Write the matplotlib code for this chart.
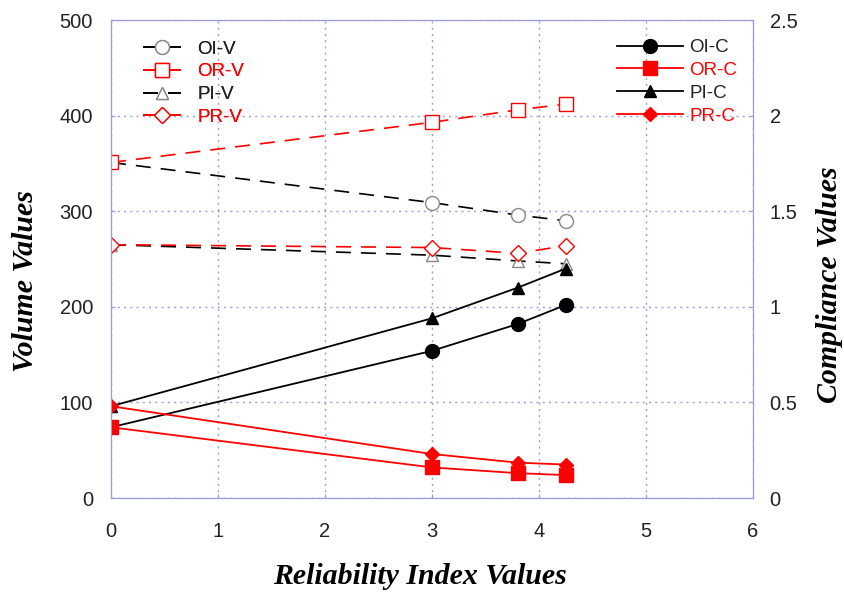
import matplotlib
matplotlib.use('Agg')
import matplotlib.pyplot as plt

# Reliability index values (x)
beta = [0, 3, 3.8, 4.25]

# Volume values (left axis)
oi_v = [351, 309, 296, 290]
or_v = [351, 393, 406, 412]
pi_v = [265, 254, 248, 245]
pr_v = [265, 262, 256, 264]

# Compliance values (right axis)
oi_c = [0.37, 0.77, 0.91, 1.01]
or_c = [0.37, 0.16, 0.13, 0.12]
pi_c = [0.48, 0.94, 1.10, 1.20]
pr_c = [0.48, 0.23, 0.185, 0.175]

RED = '#ff0000'
GRID = '#9a9ae0'

fig = plt.figure(figsize=(8.45, 5.94), dpi=100)
ax = fig.add_axes([0.1314, 0.1616, 0.7598, 0.8047])
ax2 = ax.twinx()

dash = (9, 6)
lv = []
lv += ax.plot(beta, oi_v, color='black', lw=1.2, dashes=dash, marker='o', ms=10,
              mfc='white', mec='#888888', label='OI-V')
lv += ax.plot(beta, or_v, color=RED, lw=1.2, dashes=dash, marker='s', ms=10,
              mfc='white', mec=RED, label='OR-V')
lv += ax.plot(beta, pi_v, color='black', lw=1.2, dashes=dash, marker='^', ms=9,
              mfc='white', mec='#888888', label='PI-V')
lv += ax.plot(beta, pr_v, color=RED, lw=1.2, dashes=dash, marker='D', ms=8,
              mfc='white', mec=RED, label='PR-V')

lc = []
lc += ax2.plot(beta, oi_c, color='black', lw=1.3, marker='o', ms=10, label='OI-C')
lc += ax2.plot(beta, or_c, color=RED, lw=1.3, marker='s', ms=10, label='OR-C')
lc += ax2.plot(beta, pi_c, color='black', lw=1.3, marker='^', ms=8, label='PI-C')
lc += ax2.plot(beta, pr_c, color=RED, lw=1.3, marker='D', ms=7, label='PR-C')

ax.set_xlim(0, 6)
ax.set_ylim(0, 500)
ax2.set_ylim(0, 2.5)
ax.set_xticks(range(0, 7))
ax.set_yticks(range(0, 501, 100))
ax2.set_yticks([0, 0.5, 1, 1.5, 2, 2.5])
ax2.set_yticklabels(['0', '0.5', '1', '1.5', '2', '2.5'])

ax.grid(True, color=GRID, linestyle=(0, (1.5, 3)), lw=1.0)
for a in (ax, ax2):
    for s in a.spines.values():
        s.set_color(GRID)
    a.tick_params(labelsize=14.5, direction='in', length=3, color=GRID,
                  labelfontfamily='Liberation Sans', labelcolor='#222222')
ax.tick_params(axis='x', pad=17)
ax.tick_params(axis='y', pad=13)
ax2.tick_params(axis='y', pad=12)

lab = dict(family='Liberation Serif', weight='bold', style='italic', size=21.5)
ax.set_xlabel('Reliability Index Values', **lab)
ax.set_ylabel('Volume Values', **lab)
ax2.set_ylabel('Compliance Values', **lab)
ax.xaxis.set_label_coords(0.481, -0.136)
ax.yaxis.set_label_coords(-0.112, 0.453)
ax2.yaxis.set_label_coords(1.098, 0.447)

legfont = {'family': 'Liberation Sans', 'size': 13.5}
leg1 = ax.legend(handles=lv, loc='upper left', bbox_to_anchor=(0.05, 0.957),
                 frameon=False, prop=legfont, borderpad=0, borderaxespad=0,
                 handlelength=2.0, labelspacing=0.3, handletextpad=0.9)
for t, c in zip(leg1.get_texts(), ['#222222', RED, '#222222', RED]):
    t.set_color(c)
ax.add_artist(leg1)

leg2 = ax2.legend(handles=lc, loc='upper right', bbox_to_anchor=(0.975, 0.96),
                  frameon=False, prop=legfont, borderpad=0, borderaxespad=0,
                  handlelength=3.5, labelspacing=0.3, handletextpad=0.35)
for t, c in zip(leg2.get_texts(), ['#222222', RED, '#222222', RED]):
    t.set_color(c)

fig.savefig('out.png', dpi=100)
